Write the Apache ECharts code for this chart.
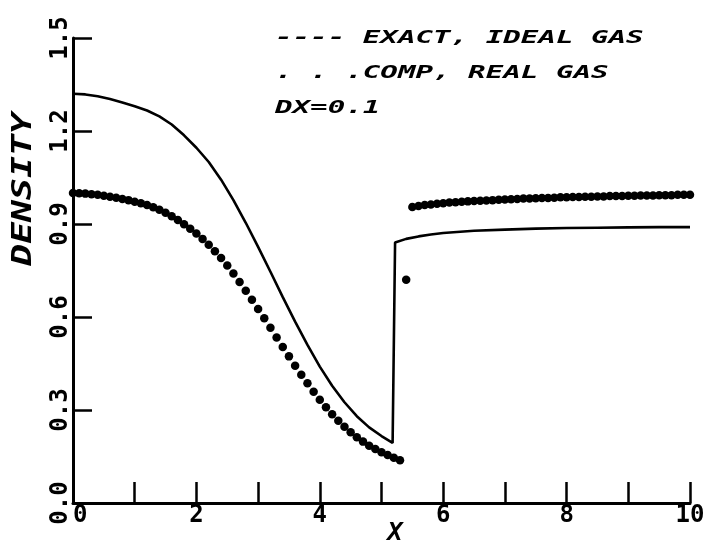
<!DOCTYPE html>
<html>
<head>
<meta charset="utf-8">
<script src="https://cdn.jsdelivr.net/npm/echarts@6/dist/echarts.min.js"></script>
<style>html,body{margin:0;padding:0;background:#fff;}#c{width:710px;height:543px;}</style>
</head>
<body>
<div id="c"></div>
<script>
// Exact solution, ideal gas (thin solid line)
const exactX = [0.0,0.2,0.4,0.6,0.8,1.0,1.2,1.4,1.6,1.8,2.0,2.2,2.4,2.6,2.8,3.0,3.2,3.4,3.6,3.8,4.0,4.2,4.4,4.6,4.8,5.0,5.18,5.22,5.4,5.6,5.8,6.0,6.5,7.0,7.5,8.0,8.5,9.0,9.5,10.0];
const exactY = [1.320,1.318,1.312,1.303,1.292,1.280,1.266,1.247,1.221,1.186,1.146,1.100,1.043,0.977,0.904,0.826,0.746,0.664,0.585,0.510,0.440,0.378,0.325,0.280,0.244,0.216,0.194,0.840,0.852,0.860,0.866,0.871,0.878,0.882,0.885,0.887,0.888,0.889,0.890,0.890];

// Computed solution, real gas (dots, DX = 0.1)
const compX = [0.0,0.1,0.2,0.3,0.4,0.5,0.6,0.7,0.8,0.9,1.0,1.1,1.2,1.3,1.4,1.5,1.6,1.7,1.8,1.9,2.0,2.1,2.2,2.3,2.4,2.5,2.6,2.7,2.8,2.9,3.0,3.1,3.2,3.3,3.4,3.5,3.6,3.7,3.8,3.9,4.0,4.1,4.2,4.3,4.4,4.5,4.6,4.7,4.8,4.9,5.0,5.1,5.2,5.3,5.4,5.5,5.6,5.7,5.8,5.9,6.0,6.1,6.2,6.3,6.4,6.5,6.6,6.7,6.8,6.9,7.0,7.1,7.2,7.3,7.4,7.5,7.6,7.7,7.8,7.9,8.0,8.1,8.2,8.3,8.4,8.5,8.6,8.7,8.8,8.9,9.0,9.1,9.2,9.3,9.4,9.5,9.6,9.7,9.8,9.9,10.0];
const compY = [1.000,0.999,0.998,0.996,0.994,0.991,0.988,0.985,0.981,0.977,0.972,0.967,0.961,0.954,0.946,0.936,0.925,0.913,0.899,0.885,0.869,0.852,0.833,0.812,0.790,0.766,0.740,0.713,0.685,0.656,0.626,0.596,0.565,0.534,0.503,0.473,0.443,0.414,0.386,0.359,0.333,0.309,0.286,0.265,0.246,0.228,0.212,0.198,0.185,0.174,0.164,0.155,0.146,0.138,0.720,0.955,0.958,0.961,0.963,0.965,0.967,0.969,0.970,0.972,0.973,0.974,0.975,0.976,0.977,0.978,0.979,0.980,0.981,0.982,0.982,0.983,0.984,0.984,0.985,0.986,0.986,0.987,0.987,0.988,0.988,0.989,0.989,0.990,0.990,0.990,0.991,0.991,0.992,0.992,0.992,0.993,0.993,0.993,0.994,0.994,0.994];

const legendLines = ['---- EXACT, IDEAL GAS', '. . .COMP, REAL GAS', 'DX=0.1'];
const yTitle = 'DENSITY';
const xTitle = 'X';

const MONO = '"DejaVu Sans Mono", "Liberation Mono", monospace';

const chart = echarts.init(document.getElementById('c'), null, {renderer: 'canvas'});

function pairs(xs, ys) { return xs.map((x, i) => [x, ys[i]]); }

const legendTop = [38.5, 73.5, 108.5];

chart.setOption({
  backgroundColor: '#fff',
  animation: false,
  grid: {left: 73, right: 20, top: 38, bottom: 40, containLabel: false},
  xAxis: {
    type: 'value', min: 0, max: 10, interval: 1,
    axisLine: {show: true, onZero: false, lineStyle: {color: '#000', width: 3}},
    axisTick: {show: true, inside: true, length: 21, lineStyle: {color: '#000', width: 2.5}},
    splitLine: {show: false},
    axisLabel: {
      color: '#000', fontFamily: MONO, fontWeight: 'bold', fontSize: 24, margin: 1,
      alignMinLabel: 'left',
      formatter: v => (Math.round(v) % 2 === 0 ? String(Math.round(v)) : '')
    }
  },
  yAxis: {
    type: 'value', min: 0, max: 1.5, interval: 0.3,
    axisLine: {show: true, onZero: false, lineStyle: {color: '#000', width: 3}},
    axisTick: {show: true, inside: true, length: 19, lineStyle: {color: '#000', width: 2.5}},
    splitLine: {show: false},
    axisLabel: {
      color: '#000', fontFamily: MONO, fontWeight: 'bold', fontSize: 24, margin: 0, rotate: 90,
      showMinLabel: true, showMaxLabel: true,
      formatter: v => v.toFixed(1)
    }
  },
  series: [
    {
      name: 'EXACT, IDEAL GAS', type: 'line', data: pairs(exactX, exactY),
      showSymbol: false, smooth: false,
      lineStyle: {color: '#000', width: 2.6}, z: 3
    },
    {
      name: 'COMP, REAL GAS', type: 'scatter', data: pairs(compX, compY),
      symbol: 'circle', symbolSize: 8.5,
      itemStyle: {color: '#000', opacity: 1}, z: 4
    }
  ],
  graphic: [
    ...legendLines.map((t, i) => ({
      type: 'text', x: 275, y: legendTop[i], scaleX: 1.62,
      style: {text: t, fill: '#000', font: 'italic bold 18px ' + MONO, textAlign: 'left', textVerticalAlign: 'middle'}
    })),
    {
      type: 'text', x: 24, y: 189, rotation: Math.PI / 2, scaleX: 1.35,
      style: {text: yTitle, fill: '#000', font: 'italic bold 27px ' + MONO, textAlign: 'center', textVerticalAlign: 'middle'}
    },
    {
      type: 'text', x: 395, y: 533,
      style: {text: xTitle, fill: '#000', font: 'italic bold 25px ' + MONO, textAlign: 'center', textVerticalAlign: 'middle'}
    }
  ]
});
</script>
</body>
</html>
